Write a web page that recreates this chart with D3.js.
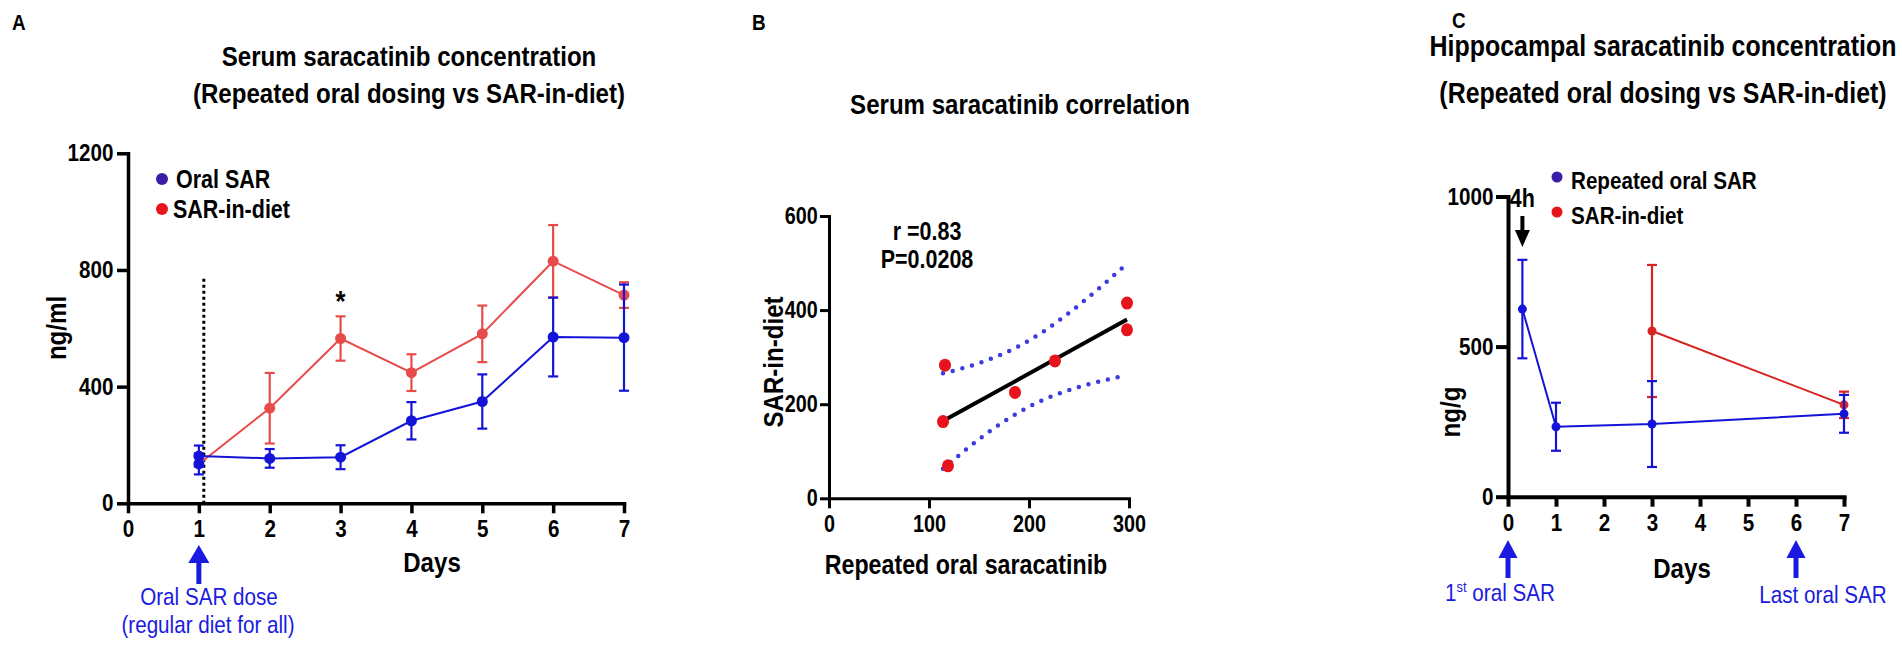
<!DOCTYPE html>
<html>
  <head>
    <meta charset="utf-8">
    <title>Saracatinib concentration</title>
    <script src="https://d3js.org/d3.v7.min.js"></script>
    <style>
      body { margin: 0; background: #fff; }
      svg text { font-family: "Liberation Sans", Arial, sans-serif; }
    </style>
  </head>
  <body>
    <svg id="chart" width="1902" height="648"></svg>
    <script>
      // panel A: serum, repeated oral vs diet
      const daysA = [1, 2, 3, 4, 5, 6, 7];
      const oralA = [162, 154, 158, 283, 349, 570, 568];
      const oralAErr = [36, 32, 41, 64, 93, 135, 182];
      const dietA = [135, 326, 565, 448, 581, 830, 714];
      const dietAErr = [36, 121, 76, 63, 97, 124, 44];
      const ticksAX = [0, 1, 2, 3, 4, 5, 6, 7];
      const ticksAY = [0, 400, 800, 1200];

      // panel B: correlation
      const oralB = [116, 114, 119, 186, 226, 298, 298];
      const dietB = [283, 163, 69, 225, 292, 415, 358];
      const ticksBX = [0, 100, 200, 300];
      const ticksBY = [0, 200, 400, 600];

      // panel C: hippocampus
      const daysCOral = [0.3, 1, 3, 7];
      const oralC = [625, 233, 242, 276];
      const oralCErr = [164, 80, 143, 63];
      const daysCDiet = [3, 7];
      const dietC = [552, 306];
      const dietCErr = [220, 44];
      const ticksCX = [0, 1, 2, 3, 4, 5, 6, 7];
      const ticksCY = [0, 500, 1000];

      const blue = "#1414d8";
      const red = "#e84c4a";
      const redDark = "#d82420";
      const arrowBlue = "#1a1ae0";
      const squeeze = 0.86; // the figure uses a condensed face

      svg = d3.select("#chart");

      // helpers
      function txt(x, y, s, size, opts) {
        opts = opts || {};
        return svg.append("text")
          .attr("transform", `translate(${x},${y})` + (opts.rot ? " rotate(-90)" : "") + ` scale(${squeeze},1)`)
          .attr("text-anchor", opts.anchor || "middle")
          .attr("font-size", size)
          .attr("font-weight", opts.normal ? "normal" : "bold")
          .attr("fill", opts.fill || "#000")
          .text(s);
      }
      function styleAxis(g, size, width) {
        g.select(".domain").attr("stroke-width", width).attr("stroke-linecap", "square");
        g.selectAll(".tick line").attr("stroke-width", width);
        g.selectAll(".tick text")
          .attr("font-size", size)
          .attr("font-weight", "bold")
          .attr("font-family", "Liberation Sans, Arial, sans-serif")
          .attr("transform", `scale(${squeeze},1)`);
      }
      function series(g, x, y, xs, ys, errs, color, lineW, r, firstColor) {
        const pts = xs.map((d, i) => ({x: d, y: ys[i], e: errs[i], c: (i == 0 && firstColor) ? firstColor : color}));
        g.append("path")
          .datum(pts)
          .attr("fill", "none")
          .attr("stroke", color)
          .attr("stroke-width", lineW)
          .attr("d", d3.line().x(d => x(d.x)).y(d => y(d.y)));
        const eb = g.selectAll(null).data(pts).enter().append("g")
          .attr("stroke", d => d.c)
          .attr("stroke-width", 2.2);
        eb.append("line")
          .attr("x1", d => x(d.x)).attr("x2", d => x(d.x))
          .attr("y1", d => y(d.y - d.e)).attr("y2", d => y(d.y + d.e));
        [1, -1].forEach(k => {
          eb.append("line")
            .attr("x1", d => x(d.x) - 5).attr("x2", d => x(d.x) + 5)
            .attr("y1", d => y(d.y + k * d.e)).attr("y2", d => y(d.y + k * d.e));
        });
        g.selectAll(null).data(pts).enter().append("circle")
          .attr("cx", d => x(d.x)).attr("cy", d => y(d.y))
          .attr("r", r)
          .attr("fill", d => d.c);
      }
      function arrow(x, tip, base, end, headW, color, shaftW) {
        svg.append("path")
          .attr("d", `M${x},${tip}L${x + headW / 2},${base}L${x - headW / 2},${base}Z`)
          .attr("fill", color);
        svg.append("line")
          .attr("x1", x).attr("x2", x)
          .attr("y1", base).attr("y2", end)
          .attr("stroke", color).attr("stroke-width", shaftW);
      }

      // ---------- panel A ----------
      xA = d3.scaleLinear().domain([0, 7]).range([128, 624]);
      yA = d3.scaleLinear().domain([0, 1200]).range([503.3, 153.3]);
      gA = svg.append("g");
      gA.append("g").attr("transform", `translate(0,${yA(0)})`)
        .call(d3.axisBottom(xA).tickValues(ticksAX).tickFormat(d3.format("d")).tickSize(10).tickPadding(7).tickSizeOuter(0))
        .call(g => styleAxis(g, 24, 3.5));
      gA.append("g").attr("transform", `translate(${xA(0)},0)`)
        .call(d3.axisLeft(yA).tickValues(ticksAY).tickFormat(d3.format("d")).tickSize(11).tickPadding(6).tickSizeOuter(0))
        .call(g => styleAxis(g, 24, 3.5));
      // start of dosing
      gA.append("line")
        .attr("x1", xA(1.07)).attr("x2", xA(1.07))
        .attr("y1", yA(770)).attr("y2", yA(0))
        .attr("stroke", "#000").attr("stroke-width", 3)
        .attr("stroke-dasharray", "3,3");
      series(gA, xA, yA, daysA, dietA, dietAErr, red, 2, 5.5, blue);
      series(gA, xA, yA, daysA, oralA, oralAErr, blue, 2, 5.5);
      txt(xA(3), yA(660), "*", 30);
      gA.append("circle").attr("cx", 162).attr("cy", 179).attr("r", 6).attr("fill", "#3a1ea8");
      gA.append("circle").attr("cx", 162).attr("cy", 209).attr("r", 6).attr("fill", "#e8141c");
      txt(176, 188, "Oral SAR", 25, {anchor: "start"});
      txt(173, 218, "SAR-in-diet", 25, {anchor: "start"});
      txt(12, 30, "A", 22, {anchor: "start"});
      txt(409, 66, "Serum saracatinib concentration", 28);
      txt(409, 103, "(Repeated oral dosing vs SAR-in-diet)", 28);
      txt(432, 572, "Days", 28);
      txt(66, 328, "ng/ml", 28, {rot: true});
      arrow(xA(1), 545, 563, 584, 21, arrowBlue, 5);
      txt(209, 605, "Oral SAR dose", 24, {normal: true, fill: arrowBlue});
      txt(208, 633, "(regular diet for all)", 24, {normal: true, fill: arrowBlue});

      // ---------- panel B ----------
      xB = d3.scaleLinear().domain([0, 300]).range([829, 1129]);
      yB = d3.scaleLinear().domain([0, 600]).range([498.3, 216]);
      gB = svg.append("g");
      gB.append("g").attr("transform", `translate(0,${yB(0)})`)
        .call(d3.axisBottom(xB).tickValues(ticksBX).tickSize(10).tickPadding(7).tickSizeOuter(0))
        .call(g => styleAxis(g, 23, 3));
      gB.append("g").attr("transform", `translate(${xB(0)},0)`)
        .call(d3.axisLeft(yB).tickValues(ticksBY).tickSize(9).tickPadding(4).tickSizeOuter(0))
        .call(g => styleAxis(g, 23, 3));
      // linear fit with 95% confidence band
      n = oralB.length;
      mx = d3.mean(oralB);
      my = d3.mean(dietB);
      sxx = d3.sum(oralB, v => (v - mx) * (v - mx));
      sxy = d3.sum(oralB, (v, i) => (v - mx) * (dietB[i] - my));
      slope = sxy / sxx;
      icpt = my - slope * mx;
      sse = d3.sum(oralB, (v, i) => Math.pow(dietB[i] - (icpt + slope * v), 2));
      se = Math.sqrt(sse / (n - 2));
      tval = 2.571;
      xr = d3.extent(oralB);
      fitX = d3.range(xr[0], xr[1] + 0.1, (xr[1] - xr[0]) / 40);
      band = k => fitX.map(v => [v, icpt + slope * v + k * tval * se * Math.sqrt(1 / n + (v - mx) * (v - mx) / sxx)]);
      lineB = d3.line().x(d => xB(d[0])).y(d => yB(d[1]));
      [1, -1].forEach(k => {
        gB.append("path").datum(band(k))
          .attr("fill", "none")
          .attr("stroke", "#3b3be0")
          .attr("stroke-width", 4.5)
          .attr("stroke-linecap", "round")
          .attr("stroke-dasharray", "0,10")
          .attr("d", lineB);
      });
      gB.append("path").datum([[xr[0], icpt + slope * xr[0]], [xr[1], icpt + slope * xr[1]]])
        .attr("stroke", "#000").attr("stroke-width", 4)
        .attr("d", lineB);
      gB.selectAll(null).data(oralB).enter().append("ellipse")
        .attr("cx", d => xB(d)).attr("cy", (d, i) => yB(dietB[i]))
        .attr("rx", 6).attr("ry", 6.5)
        .attr("fill", "#e8141c");
      txt(752, 30, "B", 22, {anchor: "start"});
      txt(1020, 114, "Serum saracatinib correlation", 28);
      txt(927, 240, "r =0.83", 25);
      txt(927, 268, "P=0.0208", 25);
      txt(966, 574, "Repeated oral saracatinib", 27);
      txt(783, 362, "SAR-in-diet", 28, {rot: true});

      // ---------- panel C ----------
      xC = d3.scaleLinear().domain([0, 7]).range([1508, 1844]);
      yC = d3.scaleLinear().domain([0, 1000]).range([496.7, 196.5]);
      gC = svg.append("g");
      gC.append("g").attr("transform", `translate(0,${yC(0)})`)
        .call(d3.axisBottom(xC).tickValues(ticksCX).tickFormat(d3.format("d")).tickSize(10).tickPadding(7).tickSizeOuter(0))
        .call(g => styleAxis(g, 24, 4));
      gC.append("g").attr("transform", `translate(${xC(0)},0)`)
        .call(d3.axisLeft(yC).tickValues(ticksCY).tickFormat(d3.format("d")).tickSize(12).tickPadding(5).tickSizeOuter(0))
        .call(g => styleAxis(g, 24, 4));
      series(gC, xC, yC, daysCDiet, dietC, dietCErr, redDark, 2, 4.5);
      series(gC, xC, yC, daysCOral, oralC, oralCErr, blue, 2, 4.5);
      gC.append("circle").attr("cx", 1557).attr("cy", 177).attr("r", 5.5).attr("fill", "#3a1ea8");
      gC.append("circle").attr("cx", 1557).attr("cy", 212).attr("r", 5.5).attr("fill", "#e8141c");
      txt(1571, 189, "Repeated oral SAR", 24, {anchor: "start"});
      txt(1571, 224, "SAR-in-diet", 24, {anchor: "start"});
      txt(xC(0.3), 207, "4h", 25);
      arrow(xC(0.3), 247, 230, 216, 15, "#000", 4);
      txt(1452, 28, "C", 22, {anchor: "start"});
      txt(1663, 56, "Hippocampal saracatinib concentration", 29);
      txt(1663, 103, "(Repeated oral dosing vs SAR-in-diet)", 29);
      txt(1682, 578, "Days", 28);
      txt(1460, 412, "ng/g", 28, {rot: true});
      arrow(xC(0), 540, 558, 578, 19, arrowBlue, 5);
      arrow(xC(6), 540, 558, 578, 19, arrowBlue, 5);
      t1 = txt(xC(0) - 8, 601, "1", 24, {normal: true, fill: arrowBlue});
      t1.append("tspan").attr("font-size", 15).attr("dy", -9).text("st");
      t1.append("tspan").attr("dy", 9).text(" oral SAR");
      txt(1823, 603, "Last oral SAR", 24, {normal: true, fill: arrowBlue});
    </script>
  </body>
</html>
